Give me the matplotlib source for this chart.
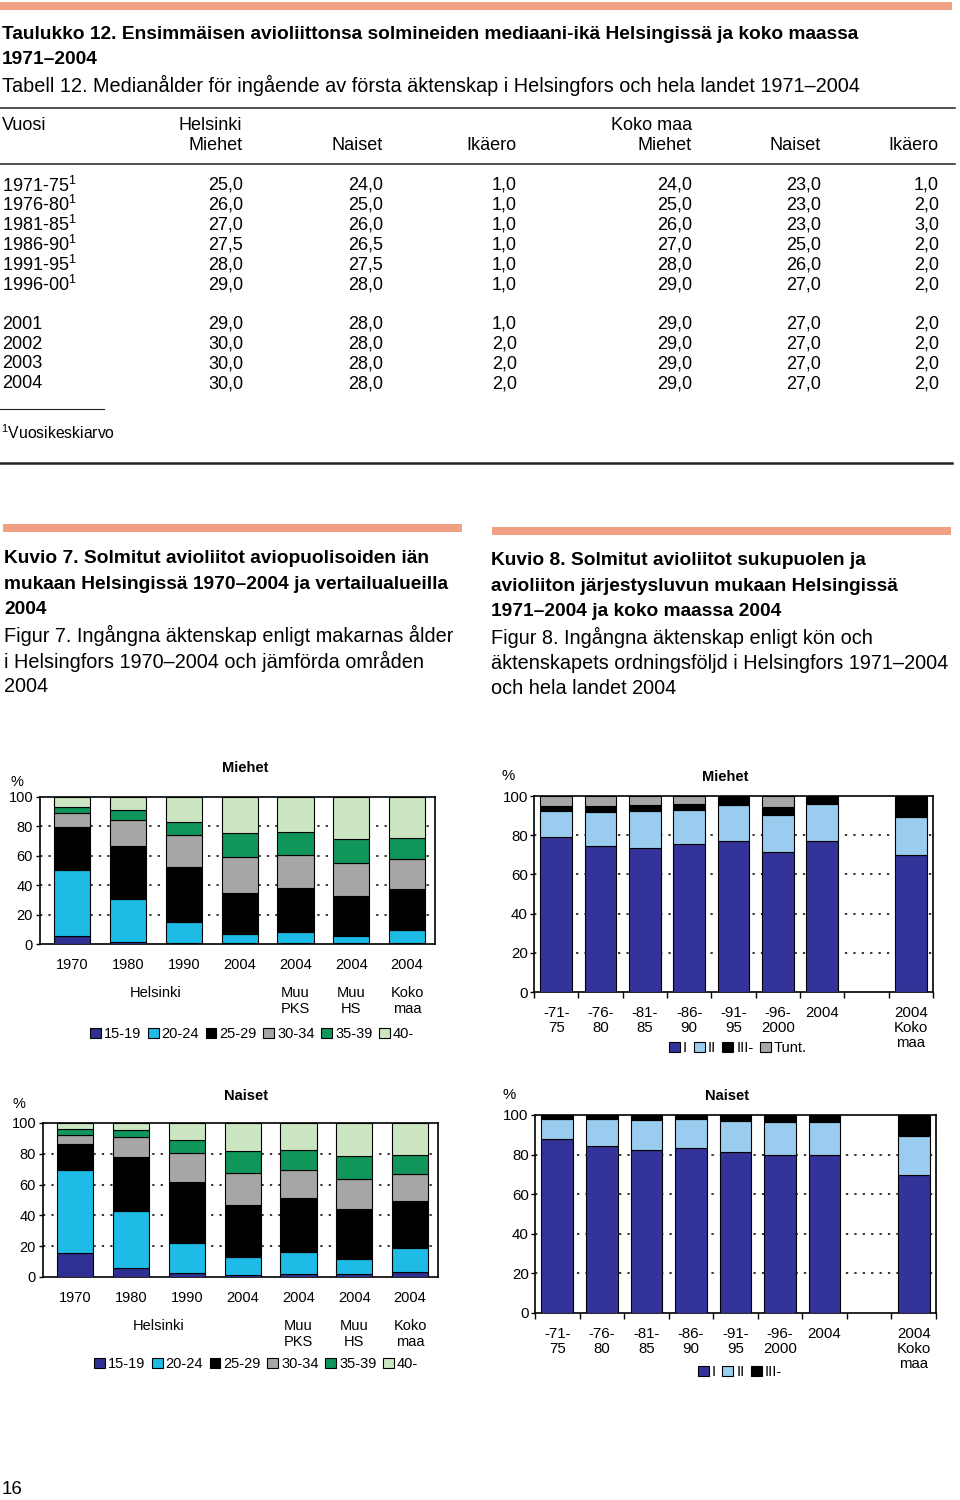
import numpy as np
import matplotlib
matplotlib.use('Agg')
import matplotlib.pyplot as plt
import matplotlib.transforms as mtransforms
from matplotlib.patches import Patch, Rectangle

plt.rcParams['font.family'] = ['Liberation Sans', 'DejaVu Sans']
plt.rcParams['mathtext.default'] = 'regular'

# ---- Taulukko 12: median age at first marriage
periods = ['1971-75', '1976-80', '1981-85', '1986-90', '1991-95', '1996-00',
           '2001', '2002', '2003', '2004']
averaged = [True, True, True, True, True, True, False, False, False, False]
hki_men = [25.0, 26.0, 27.0, 27.5, 28.0, 29.0, 29.0, 30.0, 30.0, 30.0]
hki_women = [24.0, 25.0, 26.0, 26.5, 27.5, 28.0, 28.0, 28.0, 28.0, 28.0]
hki_gap = [1.0, 1.0, 1.0, 1.0, 1.0, 1.0, 1.0, 2.0, 2.0, 2.0]
fin_men = [24.0, 25.0, 26.0, 27.0, 28.0, 29.0, 29.0, 29.0, 29.0, 29.0]
fin_women = [23.0, 23.0, 23.0, 25.0, 26.0, 27.0, 27.0, 27.0, 27.0, 27.0]
fin_gap = [1.0, 2.0, 3.0, 2.0, 2.0, 2.0, 2.0, 2.0, 2.0, 2.0]

# ---- Kuvio 7: marriages by age of spouse (%)
age_groups = ['15-19', '20-24', '25-29', '30-34', '35-39', '40-']
age_colors = ['#2E3092', '#1EBBE6', '#000000', '#A6A6A6', '#10955A', '#CCE6C2']
area_years = ['1970', '1980', '1990', '2004', '2004', '2004', '2004']
area_group = [0, 0, 0, 0, 1, 2, 3]
area_names = ['Helsinki', 'Muu\nPKS', 'Muu\nHS', 'Koko\nmaa']
men_age = np.array([
    [5.7, 1.4, 0.7, 0.5, 0.5, 0.5, 0.5],
    [44.9, 29.0, 14.5, 6.1, 7.4, 4.9, 9.3],
    [28.8, 36.0, 37.2, 28.1, 30.2, 27.0, 27.4],
    [9.7, 18.0, 21.5, 24.3, 22.4, 22.9, 20.4],
    [4.3, 7.0, 9.3, 16.3, 15.7, 16.1, 14.7],
    [6.6, 8.6, 16.8, 24.7, 23.8, 28.6, 27.7],
])
women_age = np.array([
    [15.8, 5.6, 2.4, 1.5, 1.9, 1.9, 3.0],
    [53.9, 37.3, 19.7, 11.7, 14.6, 9.6, 15.6],
    [16.7, 35.2, 39.8, 33.8, 34.8, 32.4, 31.0],
    [5.8, 13.0, 18.8, 20.7, 18.2, 20.0, 17.1],
    [3.7, 4.1, 8.3, 13.9, 12.8, 14.5, 12.5],
    [4.1, 4.8, 11.0, 18.4, 17.7, 21.6, 20.8],
])

# ---- Kuvio 8: marriages by order of marriage (%)
order_labels = ['-71-\n75', '-76-\n80', '-81-\n85', '-86-\n90', '-91-\n95',
                '-96-\n2000', '2004', '', '2004\nKoko\nmaa']
order_names = ['I', 'II', 'III-', 'Tunt.']
order_colors = ['#333399', '#99CCEE', '#000000', '#A6A6A6']
nan = np.nan
men_order = np.array([
    [79.0, 74.4, 73.6, 75.3, 76.8, 71.4, 77.2, nan, 69.8],
    [13.3, 17.6, 18.6, 17.5, 18.4, 18.7, 18.7, nan, 19.6],
    [2.4, 3.1, 3.0, 3.1, 4.8, 4.3, 4.1, nan, 10.6],
    [5.3, 4.9, 4.8, 4.1, 0.0, 5.6, 0.0, nan, 0.0],
])
women_order = np.array([
    [88.1, 84.2, 82.4, 83.4, 81.3, 79.7, 80.0, nan, 69.9],
    [10.1, 13.8, 15.1, 14.4, 15.8, 16.8, 16.5, nan, 19.7],
    [1.8, 2.0, 2.5, 2.2, 2.9, 3.5, 3.5, nan, 10.4],
])

SALMON = '#F2A083'
W, H = 960, 1500

fig = plt.figure(figsize=(W / 100, H / 100), dpi=100)
page = fig.add_axes([0, 0, 1, 1])
page.set_xlim(0, W)
page.set_ylim(H, 0)
page.axis('off')


def fmt(v):
    return ('%.1f' % v).replace('.', ',')


def add_axes_px(x0, y0, x1, y1):
    return fig.add_axes([x0 / W, 1 - y1 / H, (x1 - x0) / W, (y1 - y0) / H])


def stacked(ax, values, colors, width):
    x = np.arange(values.shape[1])
    bottom = np.zeros(values.shape[1])
    for row, color in zip(values, colors):
        ax.bar(x, row, width, bottom=bottom, color=color,
               edgecolor='black', linewidth=0.8, zorder=3)
        bottom = bottom + row


def style(ax, ypad, size):
    ax.set_ylim(0, 100)
    ax.set_yticks(range(0, 101, 20))
    ax.tick_params(axis='y', length=3, width=1, pad=ypad, labelsize=size)
    for y in (20, 40, 60, 80):
        ax.axhline(y, color='black', lw=1.1, ls=(0, (1.5, 4)), zorder=1)
    for s in ax.spines.values():
        s.set_linewidth(1.2)


def legend(names, colors, cx, cy):
    handles = [Patch(facecolor=c, edgecolor='black', linewidth=0.8) for c in colors]
    fig.legend(handles, names, loc='center', bbox_to_anchor=(cx, cy),
               bbox_transform=page.transData, ncol=len(names), frameon=False,
               fontsize=10.5, handlelength=0.75, handleheight=0.75,
               handletextpad=0.2, columnspacing=0.45, borderpad=0)


# ---- page header and table
page.add_patch(Rectangle((0, 2), 952, 8, color=SALMON, lw=0))
page.text(2, 34.5, 'Taulukko 12. Ensimmäisen avioliittonsa solmineiden mediaani-ikä '
          'Helsingissä ja koko maassa', fontsize=13.75, fontweight='bold', va='center')
page.text(2, 59.5, '1971–2004', fontsize=13.75, fontweight='bold', va='center')
page.text(2, 85.5, 'Tabell 12. Medianålder för ingående av första äktenskap i '
          'Helsingfors och hela landet 1971–2004', fontsize=14.3, va='center')

page.plot([0, 955], [108, 108], color='#222222', lw=1.1)
page.plot([0, 955], [164, 164], color='#222222', lw=1.1)

cols_x = [243, 383, 517, 692, 821, 939]
page.text(2, 125.5, 'Vuosi', fontsize=13, va='center')
page.text(179, 125.5, 'Helsinki', fontsize=13, va='center')
page.text(611, 125.5, 'Koko maa', fontsize=13, va='center')
for x, name in zip(cols_x, ['Miehet', 'Naiset', 'Ikäero', 'Miehet', 'Naiset', 'Ikäero']):
    page.text(x, 145.5, name, fontsize=13, va='center', ha='right')

columns = [hki_men, hki_women, hki_gap, fin_men, fin_women, fin_gap]
for i, period in enumerate(periods):
    y = 185.5 + 19.8 * i + (20 if i >= 6 else 0)
    label = period + ('$^{1}$' if averaged[i] else '')
    page.text(2, y, label, fontsize=13, va='center')
    for x, col in zip(cols_x, columns):
        page.text(x, y, fmt(col[i]), fontsize=13, va='center', ha='right')

page.plot([0, 104], [409, 409], color='#222222', lw=0.8)
page.text(1, 433, '$^{1}$Vuosikeskiarvo', fontsize=11.3, va='center')
page.plot([0, 952], [463, 463], color='#222222', lw=1.8)

# ---- figure captions
page.add_patch(Rectangle((3, 524), 459, 7.5, color=SALMON, lw=0))
page.add_patch(Rectangle((492, 527), 459, 7.5, color=SALMON, lw=0))

cap7_bold = ['Kuvio 7. Solmitut avioliitot aviopuolisoiden iän',
             'mukaan Helsingissä 1970–2004 ja vertailualueilla', '2004']
cap7_reg = ['Figur 7. Ingångna äktenskap enligt makarnas ålder',
            'i Helsingfors 1970–2004 och jämförda områden', '2004']
cap8_bold = ['Kuvio 8. Solmitut avioliitot sukupuolen ja',
             'avioliiton järjestysluvun mukaan Helsingissä',
             '1971–2004 ja koko maassa 2004']
cap8_reg = ['Figur 8. Ingångna äktenskap enligt kön och',
            'äktenskapets ordningsföljd i Helsingfors 1971–2004',
            'och hela landet 2004']
for x0, y0, lines in [(4, 558.5, cap7_bold + cap7_reg), (491, 560.5, cap8_bold + cap8_reg)]:
    for i, line in enumerate(lines):
        bold = i < 3
        page.text(x0, y0 + 25.7 * i, line, fontsize=13.8 if bold else 14.3, va='center',
                  fontweight='bold' if bold else 'normal')

# ---- Kuvio 7 charts (age)
age_boxes = [(40, 797, 435, 944), (43, 1123, 438, 1277)]
age_titles = [('Miehet', 245, 768, 17, 782), ('Naiset', 246, 1096, 19, 1104)]
age_legend_pos = [(252, 1034), (256, 1364)]
for data, box, title, lpos in zip([men_age, women_age], age_boxes, age_titles, age_legend_pos):
    ax = add_axes_px(*box)
    stacked(ax, data, age_colors, 0.65)
    style(ax, 2, 10.5)
    ax.set_xlim(-0.58, 6.5)
    ax.set_xticks(np.arange(len(area_years)))
    ax.set_xticklabels(area_years, fontsize=10.5)
    ax.tick_params(axis='x', length=0, pad=10)
    name, tx, ty, px, py = title
    page.text(tx, ty, name, fontsize=10.5, fontweight='bold', ha='center', va='center')
    page.text(px, py, '%', fontsize=10.5, ha='center', va='center')
    trans = mtransforms.blended_transform_factory(ax.transData, page.transData)
    for g, gname in enumerate(area_names):
        xs = [i for i, a in enumerate(area_group) if a == g]
        ax.text(np.mean(xs), box[3] + 42, gname, transform=trans, fontsize=10.5,
                ha='center', va='top', linespacing=1.15)
    legend(age_groups, age_colors, *lpos)

# ---- Kuvio 8 charts (order of marriage)
order_boxes = [(534, 796, 933, 992), (535, 1115, 936, 1313)]
order_titles = [('Miehet', 725, 777, 508, 776), ('Naiset', 727, 1096, 509, 1095)]
order_legend_pos = [(738, 1048), (740, 1372)]
for data, box, title, lpos in zip([men_order, women_order], order_boxes, order_titles, order_legend_pos):
    ax = add_axes_px(*box)
    n = data.shape[0]
    stacked(ax, data, order_colors[:n], 0.71)
    style(ax, 1.5, 10.8)
    ax.set_xlim(-0.5, len(order_labels) - 0.5)
    ax.set_xticks(np.arange(len(order_labels)))
    ax.set_xticklabels(order_labels, fontsize=10.8, linespacing=1.1)
    ax.set_xticks(np.arange(len(order_labels) + 1) - 0.5, minor=True)
    ax.tick_params(axis='x', which='major', length=0, pad=10)
    ax.tick_params(axis='x', which='minor', length=4, width=1)
    name, tx, ty, px, py = title
    page.text(tx, ty, name, fontsize=10.5, fontweight='bold', ha='center', va='center')
    page.text(px, py, '%', fontsize=10.8, ha='center', va='center')
    legend(order_names[:n], order_colors[:n], *lpos)

page.text(2, 1490, '16', fontsize=13.5, va='center')

fig.savefig('out.png', dpi=100)
